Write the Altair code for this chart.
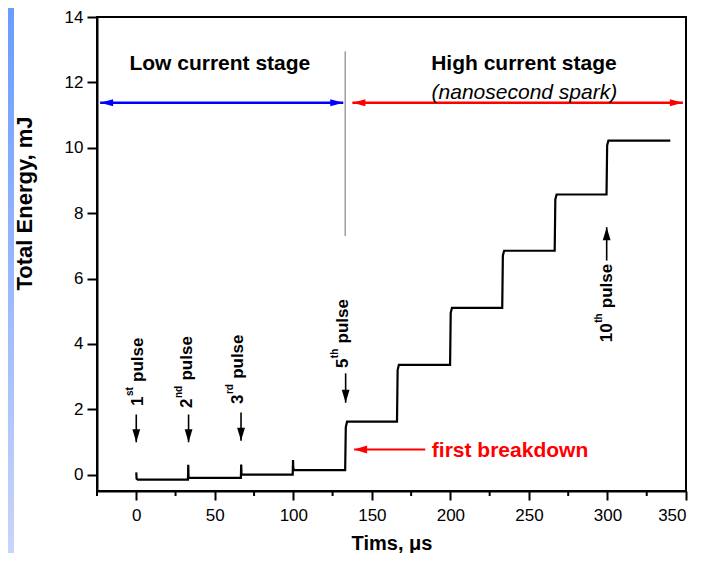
import altair as alt
import pandas as pd

FONT = "Liberation Sans"

# ---- energy trace ----
time_us = [0.0, 0.2, 1.0, 32.9, 33.1, 33.3, 34.0, 66.6, 66.8, 67.0, 67.8,
           99.6, 99.8, 100.0, 100.8, 133.0, 133.4, 134.2, 166.0, 166.4, 167.2,
           199.8, 200.2, 201.0, 233.0, 233.4, 234.2, 266.4, 266.8, 267.6,
           299.4, 299.8, 300.6, 340.0]
energy_mj = [0.07, -0.12, -0.15, -0.15, 0.30, -0.08, -0.10, -0.10, 0.31, 0.02, 0.0,
             0.0, 0.45, 0.18, 0.14, 0.14, 1.45, 1.62, 1.62, 3.20, 3.36,
             3.36, 4.95, 5.10, 5.10, 6.70, 6.85, 6.85, 8.42, 8.57,
             8.57, 10.07, 10.22, 10.22]

# ---- pulse annotations ----
pulse_num = ["1", "2", "3", "5", "10"]
pulse_sup = ["st", "nd", "rd", "th", "th"]
pulse_text_x = [4.1, 35.7, 68.2, 135.0, 302.8]
pulse_text_y = [2.10, 2.04, 2.16, 3.26, 4.05]
arrow_x = [0.0, 33.3, 66.7, 133.3, 299.5]
arrow_tail = [1.84, 1.84, 1.90, 3.10, 6.55]
arrow_tip = [0.99, 0.99, 1.04, 2.20, 7.57]

# ---- stage annotations ----
stage_labels = ["Low current stage", "High current stage"]
stage_label_x = [53.2, 246.8]
stage_label_y = [12.38, 12.38]
sub_label = "(nanosecond spark)"
sub_label_x = 247.1
sub_label_y = 11.48
stage_arrow_y = 11.38
blue_arrow = [-23.0, 131.8]
red_arrow = [137.6, 348.0]
separator_x = 133.0
separator_y = [7.3, 12.95]
breakdown_text = "first breakdown"
breakdown_text_x = 188.2
breakdown_text_y = 0.53
breakdown_arrow = [184.0, 138.7]
breakdown_arrow_y = 0.77

x_major_ticks = [0, 50, 100, 150, 200, 250, 300, 350]
x_minor_ticks = [-25, 25, 75, 125, 175, 225, 275, 325]
y_ticks = [0, 1, 2, 3, 4, 5, 6, 7, 8, 9, 10, 11, 12, 13, 14]
y_labelled = [0, 2, 4, 6, 8, 10, 12, 14]

PLOT_W = 589
PLOT_H = 474

xs = alt.Scale(domain=[-25, 350], nice=False, zero=False)
ys = alt.Scale(domain=[-0.5, 14], nice=False, zero=False)

y_major = "indexof([" + ",".join(str(v) for v in y_labelled) + "], datum.value) >= 0"

x_axis = alt.Axis(
    values=x_major_ticks, title="Tims, μs", grid=False, tickSize=9,
    labelFlush=True, labelOverlap=False, labelPadding=7,
    titleY=58, titleBaseline="alphabetic", titleFontSize=20,
)
y_axis = alt.Axis(
    values=y_ticks, title="Total Energy, mJ", grid=False,
    labelExpr=f"{y_major} ? '' + datum.value : ''",
    tickSize={"condition": {"test": y_major, "value": 10}, "value": 5},
    labelOverlap=False, labelPadding=4,
    titleX=-66, titleY=186, titleAngle=270, titleAlign="center",
    titleBaseline="alphabetic", titleFontSize=22,
)


def X(field="x"):
    return alt.X(f"{field}:Q", scale=xs)


def Y(field="y"):
    return alt.Y(f"{field}:Q", scale=ys)


def shape_head(direction, w):
    if direction == "down":
        return f"M0,0 L-{w},-1 L{w},-1 Z"
    if direction == "up":
        return f"M0,0 L-{w},1 L{w},1 Z"
    if direction == "left":
        return f"M0,0 L1,-{w} L1,{w} Z"
    return f"M0,0 L-1,-{w} L-1,{w} Z"


layers = []

# main trace (carries the axes)
trace_df = pd.DataFrame({"x": time_us, "y": energy_mj, "o": list(range(len(time_us)))})
trace = alt.Chart(trace_df).mark_line(color="black", strokeWidth=2.2).encode(
    x=alt.X("x:Q", scale=xs, axis=x_axis),
    y=alt.Y("y:Q", scale=ys, axis=y_axis),
    order="o:Q",
)
layers.append(trace)

# minor ticks of the x axis
minor_df = pd.DataFrame({"x": x_minor_ticks})
layers.append(alt.Chart(minor_df).mark_rule(color="black", strokeWidth=2).encode(
    x=X(), y=alt.value(PLOT_H), y2=alt.value(PLOT_H + 5)))

# left strip of the slide background
strip = alt.Chart(pd.DataFrame({"a": [0]})).mark_rect(
    color=alt.LinearGradient(
        gradient="linear",
        stops=[alt.GradientStop(color="#6a9cfd", offset=0),
               alt.GradientStop(color="#c9d5fa", offset=1)],
        x1=0, x2=0, y1=0, y2=1,
    )
).encode(x=alt.value(-89), x2=alt.value(-83), y=alt.value(-9), y2=alt.value(540))
layers.append(strip)

# separator
sep_df = pd.DataFrame({"x": [separator_x], "y": [separator_y[0]], "y2": [separator_y[1]]})
layers.append(alt.Chart(sep_df).mark_rule(color="#6e6e6e", strokeWidth=1).encode(
    x=X(), y=Y(), y2="y2:Q"))

# stage arrows
for (x1, x2), col in [(blue_arrow, "#0000ff"), (red_arrow, "#ff0000")]:
    df = pd.DataFrame({"x": [x1], "x2": [x2], "y": [stage_arrow_y]})
    layers.append(alt.Chart(df).mark_rule(color=col, strokeWidth=2.5).encode(
        x=X(), x2="x2:Q", y=Y()))
    ldf = pd.DataFrame({"x": [x1], "y": [stage_arrow_y]})
    rdf = pd.DataFrame({"x": [x2], "y": [stage_arrow_y]})
    layers.append(alt.Chart(ldf).mark_point(
        shape=shape_head("left", 0.27), size=676, filled=True, color=col, opacity=1
    ).encode(x=X(), y=Y()))
    layers.append(alt.Chart(rdf).mark_point(
        shape=shape_head("right", 0.27), size=676, filled=True, color=col, opacity=1
    ).encode(x=X(), y=Y()))

# stage texts
st_df = pd.DataFrame({"x": stage_label_x, "y": stage_label_y, "t": stage_labels})
layers.append(alt.Chart(st_df).mark_text(
    font=FONT, fontSize=21, fontWeight="bold", color="black",
    align="center", baseline="alphabetic"
).encode(x=X(), y=Y(), text="t:N"))
sub_df = pd.DataFrame({"x": [sub_label_x], "y": [sub_label_y], "t": [sub_label]})
layers.append(alt.Chart(sub_df).mark_text(
    font=FONT, fontSize=21, fontStyle="italic", color="black",
    align="center", baseline="alphabetic"
).encode(x=X(), y=Y(), text="t:N"))

# first breakdown
bd_df = pd.DataFrame({"x": [breakdown_text_x], "y": [breakdown_text_y], "t": [breakdown_text]})
layers.append(alt.Chart(bd_df).mark_text(
    font=FONT, fontSize=21, fontWeight="bold", color="#ff0000",
    align="left", baseline="alphabetic"
).encode(x=X(), y=Y(), text="t:N"))
bda_df = pd.DataFrame({"x": [breakdown_arrow[0]], "x2": [breakdown_arrow[1]], "y": [breakdown_arrow_y]})
layers.append(alt.Chart(bda_df).mark_rule(color="#ff0000", strokeWidth=2).encode(
    x=X(), x2="x2:Q", y=Y()))
bdh_df = pd.DataFrame({"x": [breakdown_arrow[1]], "y": [breakdown_arrow_y]})
layers.append(alt.Chart(bdh_df).mark_point(
    shape=shape_head("left", 0.3), size=676, filled=True, color="#ff0000", opacity=1
).encode(x=X(), y=Y()))

# pulse labels and arrows
NUM_FS = 17
SUP_FS = 10
for i in range(len(pulse_num)):
    num = pulse_num[i]
    sup = pulse_sup[i]
    num_w = 0.556 * NUM_FS * len(num)
    sup_w = {"st": 0.889, "nd": 1.222, "rd": 1.0, "th": 0.944}[sup] * SUP_FS
    tdf = pd.DataFrame({"x": [pulse_text_x[i]], "y": [pulse_text_y[i]]})
    common = dict(font=FONT, fontWeight="bold", color="black", angle=270,
                  align="left", baseline="alphabetic")
    layers.append(alt.Chart(tdf).mark_text(text=num, fontSize=NUM_FS, **common)
                  .encode(x=X(), y=Y()))
    layers.append(alt.Chart(tdf).mark_text(text=sup, fontSize=SUP_FS, dx=num_w + 0.5,
                                           dy=-10, **common)
                  .encode(x=X(), y=Y()))
    layers.append(alt.Chart(tdf).mark_text(text="pulse", fontSize=NUM_FS,
                                           dx=num_w + sup_w + 0.278 * NUM_FS + 1, **common)
                  .encode(x=X(), y=Y()))
    adf = pd.DataFrame({"x": [arrow_x[i]], "y": [arrow_tail[i]], "y2": [arrow_tip[i]]})
    layers.append(alt.Chart(adf).mark_rule(color="black", strokeWidth=1.6).encode(
        x=X(), y=Y(), y2="y2:Q"))
    hdf = pd.DataFrame({"x": [arrow_x[i]], "y": [arrow_tip[i]]})
    direction = "down" if arrow_tip[i] < arrow_tail[i] else "up"
    layers.append(alt.Chart(hdf).mark_point(
        shape=shape_head(direction, 0.3), size=676, filled=True, color="black", opacity=1
    ).encode(x=X(), y=Y()))

chart = alt.layer(*layers).properties(
    width=PLOT_W, height=PLOT_H,
    autosize=alt.AutoSizeParams(type="none"),
    padding={"left": 89, "top": 9, "right": 9, "bottom": 62},
    background="white",
).configure_view(
    stroke="black", strokeWidth=2
).configure_axis(
    domainColor="black", domainWidth=2, tickColor="black", tickWidth=2,
    labelFont=FONT, labelFontSize=17, labelColor="black",
    titleFont=FONT, titleFontWeight="bold", titleColor="black",
)

chart.save("out.html", embed_options={"renderer": "svg", "actions": False})
